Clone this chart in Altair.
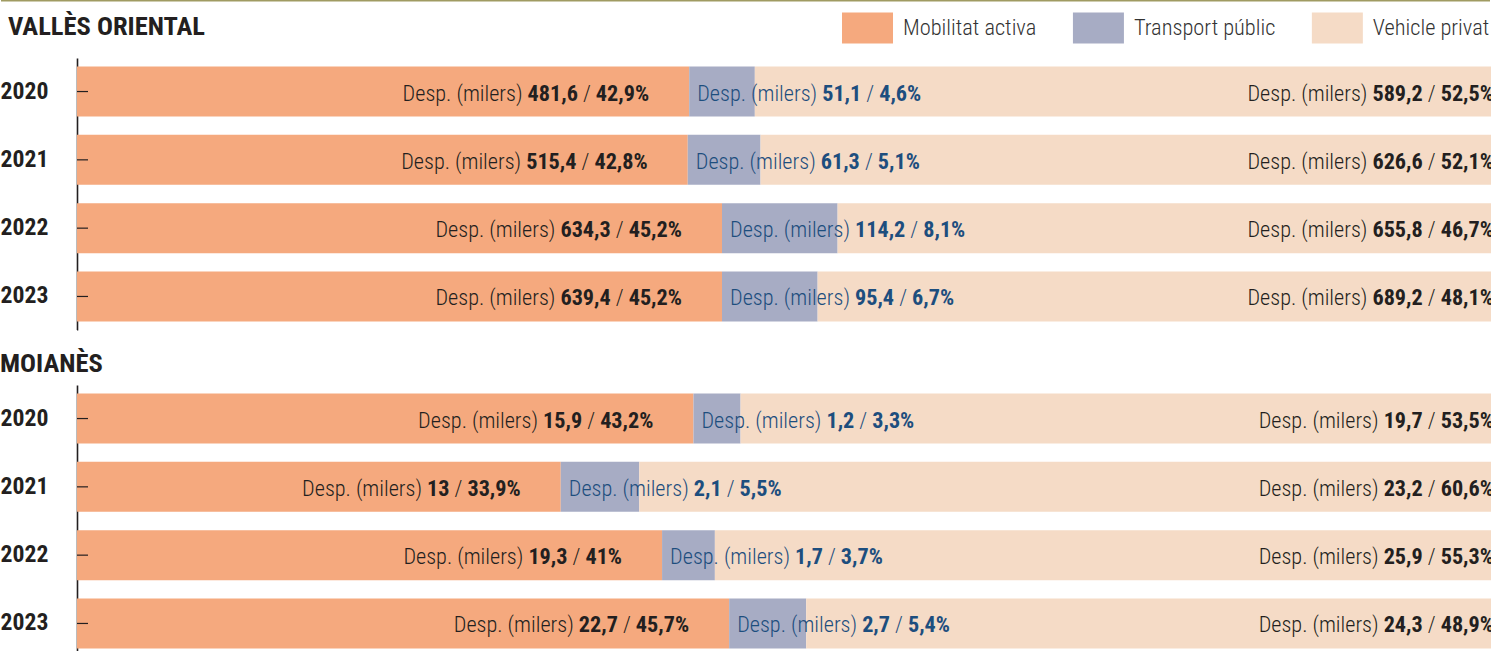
import os
import pandas as pd
import altair as alt

# ---------------- data ----------------
YEARS = ["2020", "2021", "2022", "2023"]
CATS = ["Mobilitat activa", "Transport públic", "Vehicle privat"]
SECTIONS = ["VALLÈS ORIENTAL", "MOIANÈS"]

VO_ACT_K = [481.6, 515.4, 634.3, 639.4]
VO_ACT_P = [42.9, 42.8, 45.2, 45.2]
VO_TP_K = [51.1, 61.3, 114.2, 95.4]
VO_TP_P = [4.6, 5.1, 8.1, 6.7]
VO_VP_K = [589.2, 626.6, 655.8, 689.2]
VO_VP_P = [52.5, 52.1, 46.7, 48.1]

MO_ACT_K = [15.9, 13, 19.3, 22.7]
MO_ACT_P = [43.2, 33.9, 41, 45.7]
MO_TP_K = [1.2, 2.1, 1.7, 2.7]
MO_TP_P = [3.3, 5.5, 3.7, 5.4]
MO_VP_K = [19.7, 23.2, 25.9, 24.3]
MO_VP_P = [53.5, 60.6, 55.3, 48.9]

# ---------------- styles ----------------
COLORS = ["#F5A97E", "#A7ACC4", "#F5DBC6"]
DARK = "#231F20"
BLUE = "#1D4E7E"
OLIVE = "#A09B62"
FONT = "Roboto Condensed"
PLOT_W = 1414          # visible plot width (page is 1491 wide)
PLOT_H = 272
PX_PER_PCT = 14.27     # the full 100 % bar runs past the right edge, as in the reference
XMAX = PLOT_W / PX_PER_PCT

# ---------------- font measurement ----------------
font_paths = {}
for root, _, files in os.walk("/usr/share/fonts"):
    for f in files:
        font_paths.setdefault(f, os.path.join(root, f))
light_p = font_paths.get("RobotoCondensed-Light.ttf")
reg_p = font_paths.get("RobotoCondensed-Regular.ttf")
bold_p = font_paths.get("RobotoCondensed-Bold.ttf")
REG_PATH = light_p or reg_p
REG_WEIGHT = 300 if light_p else 400

try:
    from PIL import ImageFont
    _fr = ImageFont.truetype(REG_PATH, 200)
    _fb = ImageFont.truetype(bold_p, 200)

    def em(s, b=False):
        return (_fb if b else _fr).getlength(s) / 200.0
except Exception:
    def em(s, b=False):
        return len(s) * (0.47 if b else 0.43)


def fmt(v):
    return f"{v:g}".replace(".", ",")


# font sizes chosen so the reference text widths are matched
_ref_w = (em("Desp. (milers)") + 3 * em(" ") + em("481,6", True) + em("/") + em("42,9%", True))
FS = round(247 / _ref_w, 1)
FS_Y = round(48 / em("2020", True), 1)
FS_T = round(197 / em("VALLÈS ORIENTAL", True), 1)
FS_L = round((137 + 138) / (em("Mobilitat activa") + em("Transport públic")), 1)

# legend spacing: keep the whole legend inside the 1491 px page
_lab_w = sum(em(c) * FS_L for c in CATS)
LEG_X = 765
COL_PAD = max(20, min(39, (1488 - (LEG_X + 77) - 3 * 61 - _lab_w) / 2))

PX = 1.0 / PX_PER_PCT  # data units per pixel


def section_frames(ks, ps):
    bars, pieces = [], []
    for i, y in enumerate(YEARS):
        start = 0.0
        for j, cat in enumerate(CATS):
            k, p = ks[j][i], ps[j][i]
            bars.append(dict(year=y, cat=cat, pct=p, ord=j))
            parts = [("Desp. (milers)", False), (fmt(k), True), ("/", False), (fmt(p) + "%", True)]
            widths = [em(t, b) * FS for t, b in parts]
            sp = em(" ") * FS
            total = sum(widths) + 3 * sp
            if j == 0:
                anchor, cur = start + p, -40 - total
            elif j == 1:
                anchor, cur = start, 8
            else:
                anchor, cur = 100.0, -10 - total
            col = BLUE if j == 1 else DARK
            for (t, b), w in zip(parts, widths):
                pieces.append(dict(year=y, text=t, bold=b, color=col, x=anchor + cur * PX))
                cur += w + sp
            start += p
    return pd.DataFrame(bars), pd.DataFrame(pieces)


def make_section(sec, ks, ps, first):
    bars, pieces = section_frames(ks, ps)
    xscale = alt.Scale(domain=[0, XMAX], nice=False, zero=True)
    yaxis = alt.Axis(
        title=None, ticks=False, tickSize=0, labelAlign="left", labelPadding=77,
        labelFont=FONT, labelFontWeight="bold", labelFontSize=FS_Y, labelColor=DARK,
        labelBaseline="middle", domainColor=DARK, domainWidth=1.6, grid=False,
    )
    Y = alt.Y("year:N", sort=YEARS, axis=yaxis,
              scale=alt.Scale(paddingInner=0.268, paddingOuter=0.125))

    if first:
        legend = alt.Legend(
            title=None, orient="none", legendX=LEG_X, legendY=-56, direction="horizontal",
            symbolType="M-1,-0.608H1V0.608H-1Z", symbolSize=2601, symbolStrokeWidth=0,
            symbolOpacity=1, labelFont=FONT, labelFontSize=FS_L, labelFontWeight=REG_WEIGHT,
            labelColor="#333333", labelOffset=10, columnPadding=COL_PAD, padding=0, labelLimit=400,
        )
    else:
        legend = None

    bar = alt.Chart(bars).mark_bar(clip=True).encode(
        x=alt.X("pct:Q", stack="zero", scale=xscale, axis=None),
        y=Y,
        color=alt.Color("cat:N", scale=alt.Scale(domain=CATS, range=COLORS), legend=legend),
        order=alt.Order("ord:Q"),
    )

    tick = alt.Chart(pd.DataFrame({"year": YEARS})).mark_rule(color=DARK, strokeWidth=1.2).encode(
        y=Y, x=alt.value(0), x2=alt.value(11)
    )

    layers = [bar, tick]
    for is_bold in (False, True):
        for col in (DARK, BLUE):
            sub = pieces[(pieces["bold"] == is_bold) & (pieces["color"] == col)]
            layers.append(
                alt.Chart(sub).mark_text(
                    align="left", baseline="middle", dy=2, font=FONT, fontSize=FS,
                    fontWeight="bold" if is_bold else REG_WEIGHT, color=col, clip=True,
                ).encode(x=alt.X("x:Q", scale=xscale, axis=None), y=Y, text="text:N")
            )

    title_df = pd.DataFrame({"t": [sec]})
    title = alt.Chart(title_df).mark_text(
        align="left", baseline="middle", font=FONT, fontWeight="bold", fontSize=FS_T, color=DARK
    ).encode(
        text="t:N",
        x=alt.value(-69 if first else -77),
        y=alt.value(-31 if first else -21),
    )
    layers.append(title)

    pin_df = pd.DataFrame({"k": [0]})
    if first:
        pin = alt.Chart(pin_df).mark_rule(color=OLIVE, strokeWidth=1.5).encode(
            x=alt.value(-76), x2=alt.value(PLOT_W - 1), y=alt.value(-57.25)
        )
    else:
        pin = alt.Chart(pin_df).mark_rule(color="white", strokeWidth=1).encode(
            x=alt.value(-76), x2=alt.value(0), y=alt.value(-54.5)
        )
    layers.append(pin)

    return alt.layer(*layers).properties(width=PLOT_W, height=PLOT_H)


c1 = make_section(SECTIONS[0], [VO_ACT_K, VO_TP_K, VO_VP_K], [VO_ACT_P, VO_TP_P, VO_VP_P], True)
c2 = make_section(SECTIONS[1], [MO_ACT_K, MO_TP_K, MO_VP_K], [MO_ACT_P, MO_TP_P, MO_VP_P], False)

chart = (
    alt.vconcat(c1, c2, spacing=0)
    .properties(padding=0, background="white")
    .resolve_scale(color="independent", x="independent", y="independent")
    .configure_view(strokeWidth=0, stroke="transparent")
)

chart.save("out.html", embed_options={"renderer": "svg", "actions": False})
